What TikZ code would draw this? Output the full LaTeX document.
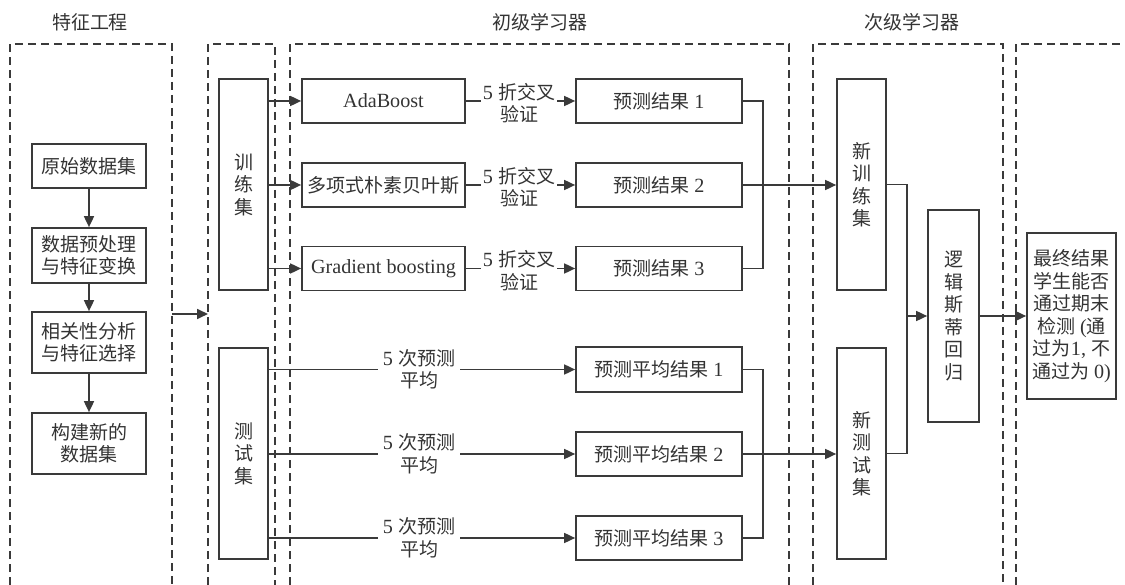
\documentclass[tikz,border=0pt]{standalone}
\usepackage{fontspec}
\setmainfont{Liberation Serif}[Scale=1.06]
\newfontfamily\cjk{Noto Sans CJK SC}
\usetikzlibrary{arrows.meta}
\newcommand\zh[1]{{\cjk #1}}
\definecolor{ink}{HTML}{333333}
\definecolor{lin}{HTML}{3A3A3A}
\begin{document}
\begin{tikzpicture}[x=1pt,y=-1pt,
  every node/.style={text=ink,font=\fontsize{19}{22.5}\selectfont},
  box/.style={draw=lin,line width=1.7pt,inner sep=0pt,align=center},
  region/.style={draw=lin,line width=1.6pt,dash pattern=on 8pt off 5pt},
  conn/.style={draw=lin,line width=1.7pt},
  arr/.style={conn,-{Triangle[length=11pt,width=10pt]}},
  lab/.style={inner sep=0pt,align=center}]
\useasboundingbox (0,0) rectangle (1125,585);
% regions
\draw[region] (10,585) -- (10,44) -- (172,44) -- (172,585);
\draw[region] (208,585) -- (208,44) -- (275,44) -- (275,585);
\draw[region] (290,585) -- (290,44) -- (789,44) -- (789,585);
\draw[region] (813,585) -- (813,44) -- (1003,44) -- (1003,585);
\draw[region] (1016,585) -- (1016,44) -- (1125,44);
% titles
\node (t1) at (90,22) {\zh{特征工程}};
\node (t2) at (540,22) {\zh{初级学习器}};
\node (t3) at (912,22) {\zh{次级学习器}};
% feature engineering
\node[box,minimum width=114pt,minimum height=44pt] (f1) at (89,166) {\zh{原始数据集}};
\node[box,minimum width=114pt,minimum height=55pt] (f2) at (89,255.5) {\zh{数据预处理}\\\zh{与特征变换}};
\node[box,minimum width=114pt,minimum height=61pt] (f3) at (89,342.5) {\zh{相关性分析}\\\zh{与特征选择}};
\node[box,minimum width=114pt,minimum height=61pt] (f4) at (89,443.5) {\zh{构建新的}\\\zh{数据集}};
\draw[arr] (f1) -- (f2);
\draw[arr] (f2) -- (f3);
\draw[arr] (f3) -- (f4);
\coordinate (fe) at (172,314);
\coordinate (se) at (208,314);
\draw[arr] (fe) -- (se);
% train / test sets
\node[box,minimum width=49pt,minimum height=211pt] (trn) at (243.5,184.5) {\zh{训}\\\zh{练}\\\zh{集}};
\node[box,minimum width=49pt,minimum height=211pt] (tst) at (243.5,453.5) {\zh{测}\\\zh{试}\\\zh{集}};
% models
\node[box,minimum width=163pt,minimum height=44pt] (m1) at (383.5,101) {AdaBoost};
\node[box,minimum width=163pt,minimum height=44pt] (m2) at (383.5,185) {\zh{多项式朴素贝叶斯}};
\node[box,minimum width=163pt,minimum height=44pt] (m3) at (383.5,268.5) {Gradient boosting};
\node[box,minimum width=166pt,minimum height=44pt] (p1) at (659,101) {\zh{预测结果} 1};
\node[box,minimum width=166pt,minimum height=44pt] (p2) at (659,185) {\zh{预测结果} 2};
\node[box,minimum width=166pt,minimum height=44pt] (p3) at (659,268.5) {\zh{预测结果} 3};
\foreach \i/\y in {1/103,2/187,3/270.5}{
  \node[lab,inner xsep=2pt] (c\i) at (519,\y) {5 \zh{折交叉}\\\zh{验证}};
  \draw[arr] (trn.east |- m\i.west) -- (m\i.west);
  \draw[conn] (m\i.east) -- (m\i.east -| c\i.west);
  \draw[arr] (c\i.east |- p\i.west) -- (p\i.west);
}
% average predictions
\node[box,minimum width=166pt,minimum height=45pt] (q1) at (659,369.5) {\zh{预测平均结果} 1};
\node[box,minimum width=166pt,minimum height=44pt] (q2) at (659,454) {\zh{预测平均结果} 2};
\node[box,minimum width=166pt,minimum height=44pt] (q3) at (659,538) {\zh{预测平均结果} 3};
\foreach \i/\y in {1/369.5,2/454,3/538}{
  \node[lab,inner xsep=5pt] (a\i) at (419,\y) {5 \zh{次预测}\\\zh{平均}};
  \draw[conn] (tst.east |- q\i.west) -- (a\i.west |- q\i.west);
  \draw[arr] (a\i.east |- q\i.west) -- (q\i.west);
}
% second level
\node[box,minimum width=49pt,minimum height=211pt] (ntr) at (861.5,184.5) {\zh{新}\\\zh{训}\\\zh{练}\\\zh{集}};
\node[box,minimum width=49pt,minimum height=211pt] (nte) at (861.5,453.5) {\zh{新}\\\zh{测}\\\zh{试}\\\zh{集}};
\node[box,minimum width=51pt,minimum height=212pt] (lr) at (953.5,316) {\zh{逻}\\\zh{辑}\\\zh{斯}\\\zh{蒂}\\\zh{回}\\\zh{归}};
\node[box,minimum width=89pt,minimum height=166pt] (fin) at (1071.5,316) {\zh{最终结果}\\\zh{学生能否}\\\zh{通过期末}\\\zh{检测} (\zh{通}\\\zh{过为}1, \zh{不}\\\zh{通过为} 0)};
% buses
\coordinate (b1) at (763,185);
\draw[conn] (p1.east) -| (b1) |- (p3.east);
\draw[arr] (p2.east) -- (ntr.west |- p2.east);
\coordinate (b2) at (763,454);
\draw[conn] (q1.east) -| (b2) |- (q3.east);
\draw[arr] (q2.east) -- (nte.west |- q2.east);
\coordinate (b3) at (907,316);
\draw[conn] (ntr.east) -| (b3) |- (nte.east);
\draw[arr] (b3) -- (lr.west);
\draw[arr] (lr.east) -- (fin.west);
\end{tikzpicture}
\end{document}
